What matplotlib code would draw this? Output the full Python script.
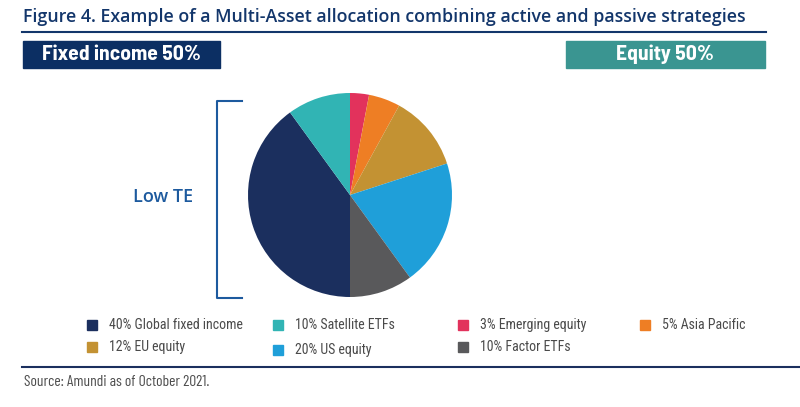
import matplotlib
matplotlib.use("Agg")
import matplotlib.pyplot as plt
from matplotlib.patches import Rectangle
from matplotlib import font_manager

names = {f.name for f in font_manager.fontManager.ttflist}


def pick(*cands):
    for c in cands:
        if c in names:
            return c
    return "DejaVu Sans"


f_title = pick("Open Sans")
f_box = pick("Barlow Semi Condensed", "Roboto Condensed", "Open Sans")
f_leg = pick("Roboto Condensed", "Archivo Narrow", "DejaVu Sans")
f_src = pick("Barlow Condensed", "PT Sans Narrow", "Roboto Condensed")

title = "Figure 4. Example of a Multi-Asset allocation combining active and passive strategies"
labels = ["3% Emerging equity", "5% Asia Pacific", "12% EU equity", "20% US equity",
          "10% Factor ETFs", "40% Global fixed income", "10% Satellite ETFs"]
values = [3, 5, 12, 20, 10, 40, 10]
colors = ["#E2325C", "#EE7E24", "#C39233", "#1F9FD9", "#59595B", "#1B2F5E", "#31B4B4"]
legend_order = ["40% Global fixed income", "10% Satellite ETFs", "3% Emerging equity",
                "5% Asia Pacific", "12% EU equity", "20% US equity", "10% Factor ETFs"]

W, H = 800, 407
fig = plt.figure(figsize=(W / 100, H / 100), dpi=100)
bg = fig.add_axes([0, 0, 1, 1])
bg.set_xlim(0, W)
bg.set_ylim(H, 0)
bg.axis("off")

navy = "#13366B"
bg.text(23, 17, title, fontsize=12.75, color=navy, fontweight="semibold",
        family=f_title, va="center", ha="left")
bg.plot([22, 766], [32, 32], color=navy, lw=1.5)

bg.add_patch(Rectangle((23, 41), 197, 27, color="#0C2F63"))
bg.text(121, 54, "Fixed income 50%", color="white", fontsize=15.5, fontweight="bold",
        family=f_box, ha="center", va="center")
bg.add_patch(Rectangle((566, 41), 199, 27, color="#3A9591"))
bg.text(665, 54, "Equity 50%", color="white", fontsize=15.5, fontweight="bold",
        family=f_box, ha="center", va="center")

bcol = "#1D5A9E"
bg.plot([242, 217, 217, 242], [101, 101, 298, 298], color=bcol, lw=1.5)
bg.text(163, 197, "Low TE", color=bcol, fontsize=13, family=f_title,
        fontweight="semibold", ha="center", va="center")

# legend
pos = [(92, 325), (278, 325), (463, 325), (645, 325),
       (92, 347), (278, 350), (463, 347)]
cmap = dict(zip(labels, colors))
for lab, (x, y) in zip(legend_order, pos):
    bg.add_patch(Rectangle((x - 5, y - 5), 10, 10, color=cmap[lab]))
    bg.text(x + 17, y, lab, fontsize=10, family=f_leg, color="#4A4A4A",
            ha="left", va="center")

bg.plot([22, 800], [367, 367], color="#1B2F5E", lw=1.5)
bg.text(24, 382, "Source: Amundi as of October 2021.", fontsize=11.2, family=f_src,
        color="#4D4D4D", ha="left", va="center")

pax = fig.add_axes([248 / W, 1 - 297 / H, 204 / W, 204 / H])
pax.pie(values, colors=colors, startangle=90, counterclock=False, radius=1,
        wedgeprops=dict(linewidth=0))
pax.set_xlim(-1, 1)
pax.set_ylim(-1, 1)

fig.savefig("out.png", dpi=100)
